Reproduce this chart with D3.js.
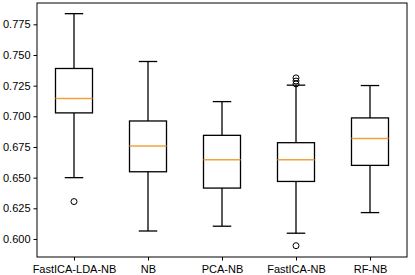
<!DOCTYPE html>
<html><head><meta charset="utf-8">
<script src="https://cdn.jsdelivr.net/npm/d3@7"></script>
<style>body{margin:0;background:#fff}svg{display:block}text{font-family:"Liberation Sans",Arial,sans-serif}</style>
</head><body>
<svg id="c" width="415" height="275"></svg>
<script>
const categories = ["FastICA-LDA-NB","NB","PCA-NB","FastICA-NB","RF-NB"];
const whiskerLow = [0.650,0.6065,0.6104,0.6047,0.6215];
const q1 = [0.7028,0.6548,0.6415,0.6469,0.660];
const median = [0.7145,0.6758,0.6646,0.6646,0.682];
const q3 = [0.739,0.6962,0.6845,0.6785,0.6987];
const whiskerHigh = [0.7837,0.7447,0.712,0.7254,0.7251];
const outliers = [[0.6305],[],[],[0.7313,0.7288,0.7264,0.5945],[]];
const yTicks = [0.600,0.625,0.650,0.675,0.700,0.725,0.750,0.775];

const svg = d3.select("#c");
const L=37,R=407,T=3,B=257;
const x = d3.scaleLinear().domain([0.5,5.5]).range([L,R]);
const y = d3.scaleLinear().domain([0.5853,0.7924]).range([B,T]);
const bw = (x(1.25)-x(0.75));
const cw = (x(1.125)-x(0.875));

const g = svg.append("g");
categories.forEach((c,i)=>{
  const cx = x(i+1);
  const gg = g.append("g").attr("stroke","#000").attr("stroke-width",1.3).attr("fill","none");
  gg.append("line").attr("x1",cx).attr("x2",cx).attr("y1",y(whiskerLow[i])).attr("y2",y(q1[i]));
  gg.append("line").attr("x1",cx).attr("x2",cx).attr("y1",y(q3[i])).attr("y2",y(whiskerHigh[i]));
  gg.append("line").attr("x1",cx-cw/2).attr("x2",cx+cw/2).attr("y1",y(whiskerLow[i])).attr("y2",y(whiskerLow[i]));
  gg.append("line").attr("x1",cx-cw/2).attr("x2",cx+cw/2).attr("y1",y(whiskerHigh[i])).attr("y2",y(whiskerHigh[i]));
  gg.append("rect").attr("x",cx-bw/2).attr("width",bw).attr("y",y(q3[i])).attr("height",y(q1[i])-y(q3[i]));
  g.append("line").attr("x1",cx-bw/2).attr("x2",cx+bw/2).attr("y1",y(median[i])).attr("y2",y(median[i]))
    .attr("stroke","#f5a040").attr("stroke-width",1.5);
  outliers[i].forEach(v=>{
    g.append("circle").attr("cx",cx).attr("cy",y(v)).attr("r",3).attr("fill","none").attr("stroke","#000").attr("stroke-width",1);
  });
});

svg.append("rect").attr("x",L).attr("y",T).attr("width",R-L).attr("height",B-T)
  .attr("fill","none").attr("stroke","#000").attr("stroke-width",1);

const ya = svg.append("g").attr("transform",`translate(${L},0)`)
  .call(d3.axisLeft(y).tickValues(yTicks).tickFormat(d3.format(".3f")).tickSize(3.5).tickPadding(3));
ya.select(".domain").remove();
ya.selectAll("text").attr("font-size",11).attr("fill","#000").style("font-family","'Liberation Sans',Arial,sans-serif");
ya.selectAll("line").attr("stroke","#000");

const xb = d3.scaleOrdinal().domain(categories).range(categories.map((c,i)=>x(i+1)));
const xa = svg.append("g").attr("transform",`translate(0,${B})`)
  .call(d3.axisBottom(xb).tickSize(3.5).tickPadding(5));
xa.select(".domain").remove();
xa.selectAll("text").attr("font-size",11).attr("fill","#000").style("font-family","'Liberation Sans',Arial,sans-serif");
xa.selectAll("line").attr("stroke","#000");
</script>
</body></html>
